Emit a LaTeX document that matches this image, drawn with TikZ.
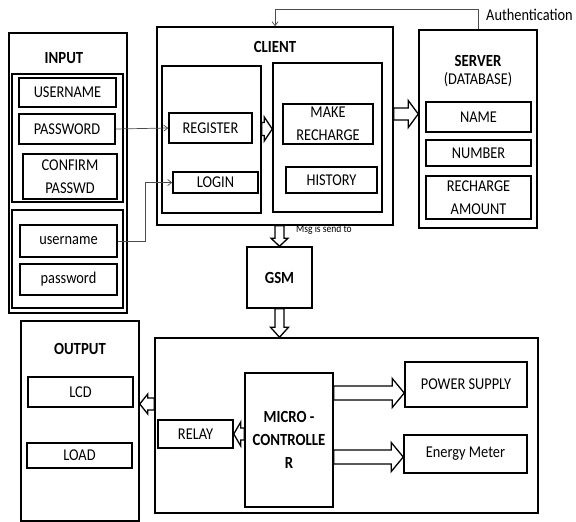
\documentclass[tikz,border=0pt]{standalone}
\usepackage{fontspec}
\setmainfont{Carlito}[FakeStretch=0.87]
\usetikzlibrary{calc,arrows.meta}
\tikzset{
 box/.style={draw, line width=1.5pt, inner sep=0pt, align=center, font=\fontsize{16.5}{23.5}\selectfont},
 frame/.style={draw, line width=1.5pt, inner sep=0pt},
 title/.style={font=\bfseries\fontsize{17}{23}\selectfont, inner sep=0pt, align=center},
 plain/.style={font=\fontsize{16.5}{17}\selectfont, inner sep=0pt},
 conn/.style={draw=black!70, line width=0.7pt, -{Straight Barb[length=4pt, width=6pt]}},
 fat/.style={draw, line width=1.3pt, fill=white, line join=miter},
}
\newcommand\harr[5]{\draw[fat] ($(#1)+(0,#3)$) -- ($(#2)+(#5,#3)$) -- ($(#2)+(#5,#4)$) -- (#2) -- ($(#2)+(#5,-#4)$) -- ($(#2)+(#5,-#3)$) -- ($(#1)+(0,-#3)$) -- cycle;}
\newcommand\varr[5]{\draw[fat] ($(#1)+(#3,0)$) -- ($(#2)+(#3,#5)$) -- ($(#2)+(#4,#5)$) -- (#2) -- ($(#2)+(-#4,#5)$) -- ($(#2)+(-#3,#5)$) -- ($(#1)+(-#3,0)$) -- cycle;}
\begin{document}
\begin{tikzpicture}[x=1pt,y=-1pt]
\useasboundingbox (0,0) rectangle (576,522);
% INPUT
\node[frame, minimum width=118pt, minimum height=280pt] (input) at (68,173) {};
\node[title] (inputt) at (64,58) {INPUT};
\node[frame, minimum width=111pt, minimum height=128pt] (grp1) at (67.5,138) {};
\node[box, minimum width=97pt, minimum height=29pt] (UN) at (67.5,92.5) {USERNAME};
\node[box, minimum width=96pt, minimum height=30pt] (PW) at (67,129) {PASSWORD};
\node[box, minimum width=94pt, minimum height=45pt] (CP) at (70,176.5) {CONFIRM\\PASSWD};
\node[frame, minimum width=111pt, minimum height=98pt] (grp2) at (67.5,259) {};
\node[box, minimum width=97pt, minimum height=32pt] (un) at (68.5,241) {username};
\node[box, minimum width=97pt, minimum height=31pt] (pw) at (68.5,279.5) {password};
% CLIENT
\node[frame, minimum width=236pt, minimum height=198pt] (client) at (275,126) {};
\node[title] (clientt) at (275,47) {CLIENT};
\node[frame, minimum width=99pt, minimum height=147pt] (cl) at (211.5,139.5) {};
\node[box, minimum width=83pt, minimum height=30pt] (reg) at (210.5,128) {REGISTER};
\node[box, minimum width=85pt, minimum height=21pt] (login) at (215.5,182.5) {LOGIN};
\node[frame, minimum width=109pt, minimum height=149pt] (cr) at (327.5,137.5) {};
\node[box, minimum width=90pt, minimum height=40pt] (mr) at (328,124) {MAKE\\RECHARGE};
\node[box, minimum width=91pt, minimum height=26pt] (hist) at (331.5,180) {HISTORY};
% SERVER
\node[frame, minimum width=118pt, minimum height=198pt] (server) at (478,129) {};
\node[title] (servert) at (478,61) {SERVER};
\node[plain] (db) at (478,80) {(DATABASE)};
\node[box, minimum width=105pt, minimum height=30pt] (name) at (478.5,117) {NAME};
\node[box, minimum width=105pt, minimum height=26pt] (num) at (478.5,153) {NUMBER};
\node[box, minimum width=105pt, minimum height=43pt] (ra) at (478.5,197.5) {RECHARGE\\AMOUNT};
% GSM
\node[frame, minimum width=65pt, minimum height=61pt, font=\bfseries\fontsize{17}{17}\selectfont] (gsm) at (279.5,277.5) {GSM};
% OUTPUT
\node[frame, minimum width=118pt, minimum height=200pt] (output) at (80,421) {};
\node[title] (outputt) at (80,349) {OUTPUT};
\node[box, minimum width=105pt, minimum height=30pt] (lcd) at (80.5,392) {LCD};
\node[box, minimum width=105pt, minimum height=25pt] (load) at (79.5,455.5) {LOAD};
% MICRO block
\node[frame, minimum width=383pt, minimum height=175pt] (micro) at (346.5,425.5) {};
\node[box, minimum width=75pt, minimum height=28pt] (relay) at (195.5,434) {RELAY};
\node[box, minimum width=88pt, minimum height=134pt, font=\bfseries\fontsize{17}{23}\selectfont] (mc) at (289,440) {MICRO -\\CONTROLLE\\R};
\node[box, minimum width=122pt, minimum height=45pt] (ps) at (466,384.5) {POWER SUPPLY};
\node[box, minimum width=123pt, minimum height=38pt] (em) at (465.5,454) {Energy Meter};
% labels
\node[plain, anchor=west] (auth) at (486,15) {Authentication};
\node[font=\fontsize{11}{12}\selectfont, inner sep=0pt, anchor=west] (msg) at (296,230) {Msg is send to};
% thin connectors
\draw[conn] (PW.east) -- (reg.west);
\draw[conn] (un.east) -- ++(28,0) |- (login.west);
\draw[conn] (server.north) -- (server.north |- 0,9) -| (client.north);
% fat arrows
\coordinate (a1t) at (cl.east |- 0,129); \coordinate (a1h) at (cr.west |- 0,129);
\harr{a1t}{a1h}{6.5}{12}{-8}
\coordinate (a2t) at (client.east |- 0,114); \coordinate (a2h) at (server.west |- 0,114);
\harr{a2t}{a2h}{6}{13.5}{-10}
\coordinate (a3t) at (gsm.north |- client.south); \coordinate (a3h) at (gsm.north);
\varr{a3t}{a3h}{4.5}{8.5}{-8}
\coordinate (a4t) at (gsm.south); \coordinate (a4h) at (gsm.south |- micro.north);
\varr{a4t}{a4h}{4.5}{9}{-10}
\coordinate (a5t) at (micro.west |- 0,404); \coordinate (a5h) at (output.east |- 0,404);
\harr{a5t}{a5h}{6}{10}{8}
\coordinate (a6t) at (mc.west |- 0,434); \coordinate (a6h) at (relay.east |- 0,434);
\harr{a6t}{a6h}{6}{12}{7}
\coordinate (a7t) at (mc.east |- 0,393); \coordinate (a7h) at (ps.west |- 0,393);
\harr{a7t}{a7h}{7}{14.5}{-12}
\coordinate (a8t) at (mc.east |- 0,457); \coordinate (a8h) at (em.west |- 0,457);
\harr{a8t}{a8h}{7}{14.5}{-12}
\end{tikzpicture}
\end{document}
